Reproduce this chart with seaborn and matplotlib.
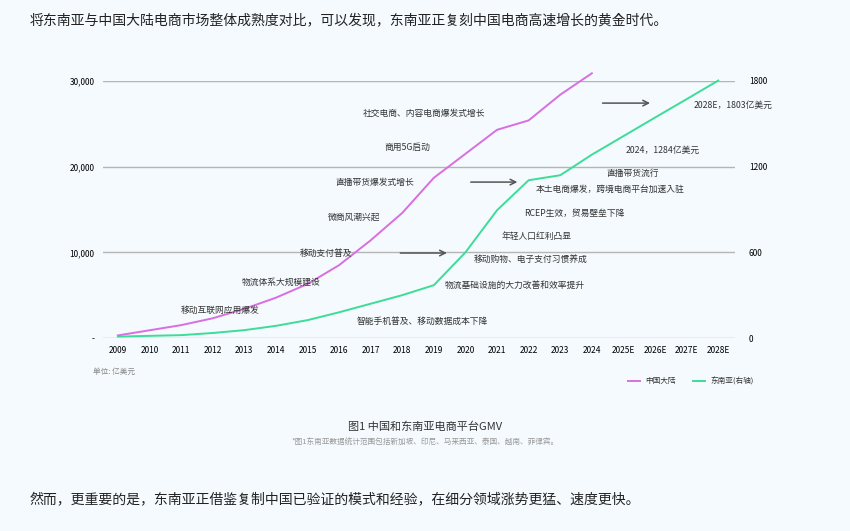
import matplotlib
matplotlib.use("Agg")
import matplotlib.pyplot as plt
from matplotlib import font_manager as fm
import seaborn as sns
import pandas as pd

cjk = None
for f in fm.fontManager.ttflist:
    if "CJK" in f.name and ("SC" in f.name or cjk is None):
        cjk = f.name
        if "SC" in f.name:
            break
if cjk is None:
    for p in fm.findSystemFonts():
        if "CJK" in p:
            fm.fontManager.addfont(p)
            cjk = fm.FontProperties(fname=p).get_name()
            break
plt.rcParams["font.family"] = [cjk or "Noto Sans CJK SC", "DejaVu Sans"]
plt.rcParams["font.sans-serif"] = [cjk or "Noto Sans CJK SC", "DejaVu Sans"]

years = ["2009","2010","2011","2012","2013","2014","2015","2016","2017","2018",
         "2019","2020","2021","2022","2023","2024","2025E","2026E","2027E","2028E"]
china = [300, 900, 1500, 2300, 3400, 4700, 6300, 8500, 11400, 14600,
         18700, 21500, 24300, 25400, 28400, 30900]
sea = [10, 15, 20, 35, 55, 85, 125, 180, 240, 300,
       370, 600, 895, 1105, 1140, 1284, 1414, 1544, 1673, 1803]
left_ticks = [0, 10000, 20000, 30000]
left_labels = ["-", "10,000", "20,000", "30,000"]
right_ticks = [0, 600, 1200, 1800]
notes = [
    ("社交电商、内容电商爆发式增长", 9.7, 26250),
    ("商用5G启动", 9.15, 22290),
    ("直播带货爆发式增长", 8.13, 18200),
    ("微商风潮兴起", 7.47, 14120),
    ("移动支付普及", 6.58, 9920),
    ("物流体系大规模建设", 5.16, 6530),
    ("移动互联网应用爆发", 3.23, 3270),
    ("智能手机普及、移动数据成本下降", 9.62, 1980),
    ("物流基础设施的大力改善和效率提升", 12.56, 6180),
    ("移动购物、电子支付习惯养成", 13.07, 9220),
    ("年轻人口红利凸显", 13.26, 11790),
    ("RCEP生效，贸易壁垒下降", 14.46, 14590),
    ("本土电商爆发，跨境电商平台加速入驻", 15.57, 17390),
    ("直播带货流行", 16.3, 19250),
    ("2024，1284亿美元", 17.25, 21940),
    ("2028E，1803亿美元", 19.46, 27190),
]
arrows = [(11.08, 18200, 12.73, 18200), (8.85, 9920, 10.5, 9920), (15.25, 27420, 16.93, 27420)]

bg = "#f4fafd"
pink = "#d96ee0"
green = "#3ddc97"

fig = plt.figure(figsize=(8.5, 5.31), dpi=100, facecolor=bg)
ax = fig.add_axes([103/850, 1-338/531, 632/850, 257/531])
ax.set_facecolor(bg)
dc = pd.DataFrame({"x": range(len(china)), "v": china})
ds = pd.DataFrame({"x": range(len(sea)), "v": sea})
sns.lineplot(data=dc, x="x", y="v", ax=ax, color=pink, lw=1.4, clip_on=False, zorder=3)
ax.set_xlim(-0.47, 19.53)
ax.set_ylim(0, 30000)
ax.set_yticks(left_ticks)
ax.set_yticklabels(left_labels, fontsize=6)
ax.set_xticks(range(len(years)))
ax.set_xticklabels(years, fontsize=6)
ax.grid(axis="y", color="#b5b5b5", lw=1)
ax.set_axisbelow(True)
for s in ax.spines.values():
    s.set_visible(False)
ax.tick_params(length=0, pad=6)
ax.set_xlabel(""); ax.set_ylabel("")

ax2 = ax.twinx()
sns.lineplot(data=ds, x="x", y="v", ax=ax2, color=green, lw=1.4, clip_on=False, zorder=3)
ax2.set_ylim(0, 1800)
ax2.set_yticks(right_ticks)
ax2.set_yticklabels([str(t) for t in right_ticks], fontsize=6)
ax2.tick_params(length=0, pad=10)
for s in ax2.spines.values():
    s.set_visible(False)
ax2.set_ylabel("")

for t, x, y in notes:
    ax.text(x, y, t, fontsize=6.3, ha="center", va="center", color="#333333", zorder=5)
for x0, y0, x1, y1 in arrows:
    ax.annotate("", xy=(x1, y1), xytext=(x0, y0),
                arrowprops=dict(arrowstyle="->", color="#555555", lw=1.1))

fig.text(30/850, 1-20/531, "将东南亚与中国大陆电商市场整体成熟度对比，可以发现，东南亚正复刻中国电商高速增长的黄金时代。",
         fontsize=10, va="center", color="#222222")
fig.text(93/850, 1-372/531, "单位: 亿美元", fontsize=5.5, va="center", color="#888888")
fig.lines.append(plt.Line2D([628/850, 640/850], [1-381/531]*2, color=pink, lw=1.4, transform=fig.transFigure))
fig.text(645/850, 1-381/531, "中国大陆", fontsize=5.5, va="center", color="#333333")
fig.lines.append(plt.Line2D([693/850, 705/850], [1-381/531]*2, color=green, lw=1.4, transform=fig.transFigure))
fig.text(710/850, 1-381/531, "东南亚(右轴)", fontsize=5.5, va="center", color="#333333")
fig.text(425/850, 1-427/531, "图1 中国和东南亚电商平台GMV", fontsize=8, ha="center", va="center", color="#333333")
fig.text(425/850, 1-443/531, "*图1东南亚数据统计范围包括新加坡、印尼、马来西亚、泰国、越南、菲律宾。",
         fontsize=5.5, ha="center", va="center", color="#999999")
fig.text(30/850, 1-500/531, "然而，更重要的是，东南亚正借鉴复制中国已验证的模式和经验，在细分领域涨势更猛、速度更快。",
         fontsize=10, va="center", color="#222222")

fig.savefig("out.png", dpi=100, facecolor=bg)
